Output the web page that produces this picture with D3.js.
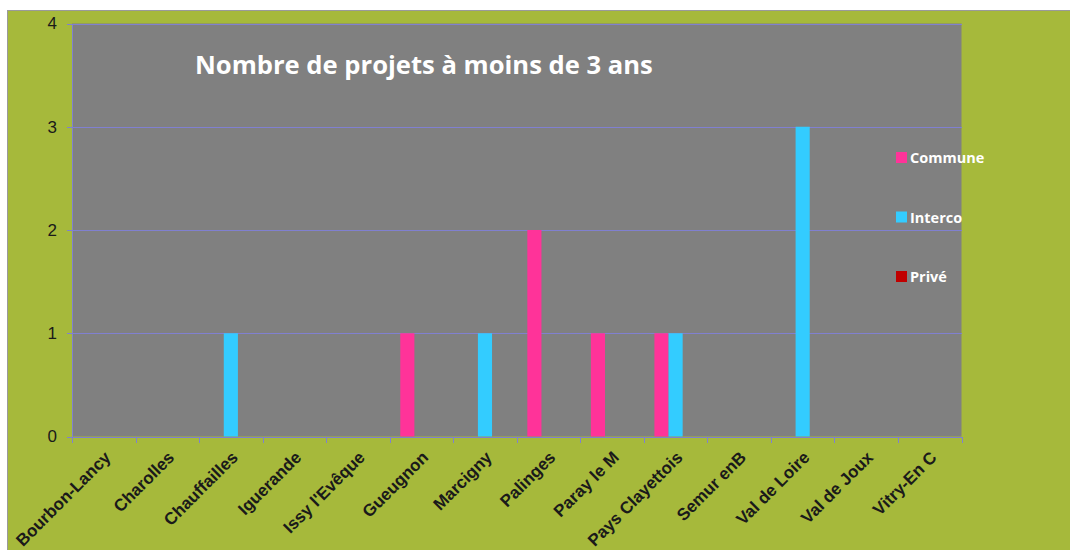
<!DOCTYPE html>
<html>
<head>
<meta charset="utf-8">
<script src="https://cdn.jsdelivr.net/npm/d3@7"></script>
<style>
  html, body { margin: 0; padding: 0; background: #ffffff; }
  svg { display: block; }
</style>
</head>
<body>
<svg id="chart" width="1070" height="550"></svg>
<script>
// Communes / intercommunalités
const categories = [
  "Bourbon-Lancy", "Charolles", "Chauffailles", "Iguerande", "Issy l'Evêque",
  "Gueugnon", "Marcigny", "Palinges", "Paray le M", "Pays Clayettois",
  "Semur enB", "Val de Loire", "Val de Joux", "Vitry-En C"
];

// Nombre de projets par porteur
const seriesNames = ["Commune", "Interco", "Privé"];
const communeValues = [0, 0, 0, 0, 0, 1, 0, 2, 1, 1, 0, 0, 0, 0];
const intercoValues = [0, 0, 1, 0, 0, 0, 1, 0, 0, 1, 0, 3, 0, 0];
const priveValues   = [0, 0, 0, 0, 0, 0, 0, 0, 0, 0, 0, 0, 0, 0];
const seriesColors = ["#ff3399", "#33ccff", "#c00000"];

const yTicks = [0, 1, 2, 3, 4];
const titleText = "Nombre de projets à moins de 3 ans";

const seriesValues = [communeValues, intercoValues, priveValues];
const rows = categories.map((c, i) => ({
  cat: c,
  values: seriesNames.map((s, k) => ({ series: s, value: seriesValues[k][i], color: seriesColors[k] }))
}));

const svg = d3.select("#chart");
const W = 1070, H = 550;
const plot = { left: 72, top: 23.5, right: 961.5, bottom: 436.5 };

// chart area background
svg.append("rect")
  .attr("x", 7.5).attr("y", 10.5)
  .attr("width", W + 10).attr("height", H + 10)
  .attr("fill", "#a6b93b")
  .attr("stroke", "#9a9a9a").attr("stroke-width", 1);

// plot area
svg.append("rect")
  .attr("x", plot.left).attr("y", plot.top)
  .attr("width", plot.right - plot.left).attr("height", plot.bottom - plot.top)
  .attr("fill", "#808080");

const x = d3.scaleBand().domain(categories).range([plot.left, plot.right]).paddingInner(0).paddingOuter(0);
const x1 = d3.scaleBand().domain(seriesNames).range([0, x.bandwidth()]).paddingInner(0).paddingOuter(0.75);
const y = d3.scaleLinear().domain([0, 4]).range([plot.bottom, plot.top]);

const axisColor = "#8080d0";

// gridlines
svg.append("g")
  .attr("shape-rendering", "crispEdges")
  .selectAll("line")
  .data(yTicks.filter(d => d > 0))
  .join("line")
  .attr("x1", plot.left).attr("x2", plot.right)
  .attr("y1", d => Math.round(y(d)) + 0.5).attr("y2", d => Math.round(y(d)) + 0.5)
  .attr("stroke", axisColor).attr("stroke-width", 1);

// bars
const groups = svg.append("g")
  .selectAll("g")
  .data(rows)
  .join("g")
  .attr("transform", d => `translate(${x(d.cat)},0)`);

groups.selectAll("rect")
  .data(d => d.values.filter(v => v.value > 0))
  .join("rect")
  .attr("x", d => x1(d.series))
  .attr("width", x1.bandwidth())
  .attr("y", d => y(d.value))
  .attr("height", d => y(0) - y(d.value))
  .attr("fill", d => d.color);

// y axis
const yAxis = svg.append("g")
  .attr("transform", `translate(${plot.left},0)`)
  .attr("shape-rendering", "crispEdges")
  .call(d3.axisLeft(y).tickValues(yTicks).tickFormat(d3.format("d")).tickSize(5).tickPadding(10));
yAxis.select(".domain").attr("stroke", axisColor);
yAxis.selectAll(".tick line").attr("stroke", axisColor);
yAxis.selectAll("text")
  .attr("font-family", "'Liberation Sans', Arial, sans-serif")
  .attr("font-size", 17)
  .attr("fill", "#1a1a1a");

// x axis: boundary ticks and rotated labels
const xAxis = svg.append("g")
  .attr("transform", `translate(0,${plot.bottom})`)
  .attr("shape-rendering", "crispEdges");
xAxis.append("line")
  .attr("x1", plot.left).attr("x2", plot.right)
  .attr("y1", 0.5).attr("y2", 0.5)
  .attr("stroke", axisColor);
const bounds = categories.map(c => x(c)).concat([x.range()[1]]);
xAxis.selectAll("line.tick")
  .data(bounds)
  .join("line")
  .attr("class", "tick")
  .attr("x1", d => Math.round(d) + 0.5).attr("x2", d => Math.round(d) + 0.5)
  .attr("y1", 0).attr("y2", 6)
  .attr("stroke", axisColor);

svg.append("g")
  .selectAll("text")
  .data(categories)
  .join("text")
  .attr("transform", d => `translate(${x(d) + x.bandwidth() / 2 + 8},${plot.bottom + 22}) rotate(-45)`)
  .attr("text-anchor", "end")
  .attr("font-family", "'Liberation Sans', Arial, sans-serif")
  .attr("font-weight", "bold")
  .attr("font-size", 17)
  .attr("fill", "#1a1a1a")
  .text(d => d);

// title
const title = svg.append("text")
  .attr("x", 195).attr("y", 74)
  .attr("font-family", "'Open Sans', sans-serif")
  .attr("font-weight", "bold")
  .attr("font-size", 24)
  .attr("fill", "#ffffff")
  .text(titleText);
const tw = title.node().getComputedTextLength();
title.attr("font-size", 24 * 458 / tw);

// legend
const legend = svg.append("g")
  .selectAll("g")
  .data(seriesNames)
  .join("g")
  .attr("transform", (d, i) => `translate(896,${152 + i * 59.5})`);
legend.append("rect")
  .attr("width", 11).attr("height", 11)
  .attr("fill", (d, i) => seriesColors[i]);
legend.append("text")
  .attr("x", 14).attr("y", 11)
  .attr("font-family", "'Open Sans', sans-serif")
  .attr("font-weight", "bold")
  .attr("font-size", 14.5)
  .attr("fill", "#ffffff")
  .text(d => d);
</script>
</body>
</html>
